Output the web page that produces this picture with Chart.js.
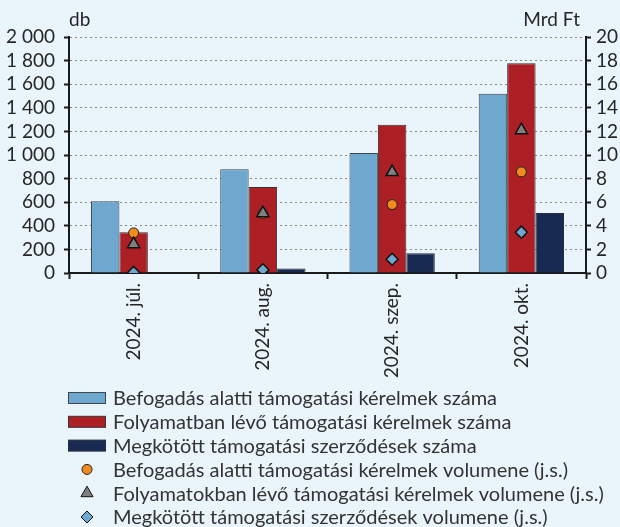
<!DOCTYPE html>
<html>
<head>
<meta charset="utf-8">
<script src="https://cdn.jsdelivr.net/npm/chart.js"></script>
<style>
  body { margin: 0; background: #e9f4fb; }
  canvas { display: block; }
</style>
</head>
<body>
<canvas id="chart" width="620" height="527"></canvas>
<script>
var categories = ['2024. júl.', '2024. aug.', '2024. szep.', '2024. okt.'];

// bars, left axis (db)
var befogadasDb = [607, 880, 1018, 1520];
var folyamatbanDb = [346, 728, 1257, 1777];
var megkototDb = [0, 38, 168, 508];

// markers, right axis (Mrd Ft)
var befogadasMrd = [3.4, 5.05, 5.8, 8.57];
var folyamatbanMrd = [2.44, 5.07, 8.55, 12.1];
var megkototMrd = [0.05, 0.27, 1.16, 3.46];

var leftTicks = [0, 200, 400, 600, 800, 1000, 1200, 1400, 1600, 1800, 2000];
var rightTicks = [0, 2, 4, 6, 8, 10, 12, 14, 16, 18, 20];

Chart.defaults.font.family = 'Lato';
Chart.defaults.color = '#262626';

function fmt(v) {
    return String(v).replace(/\B(?=(\d{3})+(?!\d))/g, ' ');
}

function marker(ctx, style, x, y, r) {
    ctx.beginPath();
    if (style === 'circle') {
        ctx.arc(x, y, r, 0, Math.PI * 2);
    } else if (style === 'triangle') {
        ctx.moveTo(x, y - r);
        ctx.lineTo(x + r * 0.866, y + r * 0.5);
        ctx.lineTo(x - r * 0.866, y + r * 0.5);
        ctx.closePath();
    } else {
        ctx.moveTo(x, y - r);
        ctx.lineTo(x + r, y);
        ctx.lineTo(x, y + r);
        ctx.lineTo(x - r, y);
        ctx.closePath();
    }
    ctx.fill();
    ctx.stroke();
}

// axis unit labels + one-per-row legend
var extras = {
    id: 'extras',
    afterDraw: function (chart) {
        var ctx = chart.ctx;
        var area = chart.chartArea;
        ctx.save();
        ctx.fillStyle = '#262626';
        ctx.font = '19px Lato';
        ctx.textBaseline = 'middle';
        ctx.textAlign = 'left';
        ctx.fillText('db', area.left, 20);
        ctx.textAlign = 'right';
        ctx.fillText('Mrd Ft', area.right - 6, 20);

        ctx.font = '20px Lato';
        ctx.textAlign = 'left';
        chart.data.datasets.forEach(function (ds, i) {
            var y = 398 + i * 23.8;
            ctx.lineWidth = 1;
            ctx.strokeStyle = ds.borderColor;
            ctx.fillStyle = ds.backgroundColor;
            if (ds.type === 'bar') {
                ctx.fillRect(68.5, y - 5.5, 37, 11);
                ctx.strokeRect(68.5, y - 5.5, 37, 11);
            } else {
                marker(ctx, ds.pointStyle, 87, y, ds.pointRadius);
            }
            ctx.fillStyle = '#333333';
            ctx.fillText(ds.label, 113, y + 1);
        });
        ctx.restore();
    }
};

new Chart(document.getElementById('chart'), {
    data: {
        labels: categories,
        datasets: [{
            type: 'bar',
            label: 'Befogadás alatti támogatási kérelmek száma',
            data: befogadasDb,
            backgroundColor: '#6fa8cf',
            borderColor: '#3c4650',
            borderWidth: 1,
            order: 10
        }, {
            type: 'bar',
            label: 'Folyamatban lévő támogatási kérelmek száma',
            data: folyamatbanDb,
            backgroundColor: '#ac2025',
            borderColor: '#3c3030',
            borderWidth: 1,
            order: 10
        }, {
            type: 'bar',
            label: 'Megkötött támogatási szerződések száma',
            data: megkototDb,
            backgroundColor: '#182a52',
            borderColor: '#2a2f3c',
            borderWidth: 1,
            order: 10
        }, {
            type: 'line',
            label: 'Befogadás alatti támogatási kérelmek volumene (j.s.)',
            data: befogadasMrd,
            yAxisID: 'y2',
            showLine: false,
            pointStyle: 'circle',
            pointRadius: 5,
            backgroundColor: '#f28b1e',
            borderColor: '#202020',
            borderWidth: 1,
            order: 3
        }, {
            type: 'line',
            label: 'Folyamatokban lévő támogatási kérelmek volumene (j.s.)',
            data: folyamatbanMrd,
            yAxisID: 'y2',
            showLine: false,
            pointStyle: 'triangle',
            pointRadius: 7,
            backgroundColor: '#808080',
            borderColor: '#101010',
            borderWidth: 1.5,
            order: 2
        }, {
            type: 'line',
            label: 'Megkötött támogatási szerződések volumene (j.s.)',
            data: megkototMrd,
            yAxisID: 'y2',
            showLine: false,
            pointStyle: 'rectRot',
            pointRadius: 6,
            backgroundColor: '#6fa8cf',
            borderColor: '#101010',
            borderWidth: 1.5,
            order: 1
        }]
    },
    options: {
        responsive: false,
        animation: false,
        layout: { padding: { top: 37, left: 0, right: 0, bottom: 0 } },
        datasets: {
            bar: { barPercentage: 1, categoryPercentage: 0.66 }
        },
        plugins: {
            legend: { display: false },
            tooltip: { enabled: false }
        },
        scales: {
            x: {
                offset: true,
                grid: {
                    offset: true,
                    drawOnChartArea: false,
                    tickLength: 6,
                    tickColor: '#1a1a1a',
                    tickWidth: 2
                },
                border: { color: '#1a1a1a', width: 2 },
                ticks: {
                    minRotation: 90,
                    maxRotation: 90,
                    padding: 4,
                    font: { size: 19 }
                },
                afterFit: function (s) { s.height = 254; }
            },
            y: {
                position: 'left',
                min: 0,
                max: 2000,
                afterBuildTicks: function (s) {
                    s.ticks = leftTicks.map(function (v) { return { value: v }; });
                },
                grid: {
                    color: '#8a8a8a',
                    lineWidth: 1,
                    tickLength: 5,
                    tickColor: '#1a1a1a',
                    tickWidth: 2,
                    tickBorderDash: []
                },
                border: { color: '#1a1a1a', width: 2, dash: [2, 3] },
                ticks: {
                    autoSkip: false,
                    padding: 9,
                    font: { size: 19 },
                    callback: function (v) { return fmt(v); }
                },
                afterFit: function (s) { s.width = 69; }
            },
            y2: {
                position: 'right',
                min: 0,
                max: 20,
                afterBuildTicks: function (s) {
                    s.ticks = rightTicks.map(function (v) { return { value: v }; });
                },
                grid: {
                    drawOnChartArea: false,
                    tickLength: 5,
                    tickColor: '#1a1a1a',
                    tickWidth: 2
                },
                border: { color: '#1a1a1a', width: 2 },
                ticks: {
                    autoSkip: false,
                    padding: 5,
                    font: { size: 19 }
                },
                afterFit: function (s) { s.width = 34; }
            }
        }
    },
    plugins: [extras]
});
</script>
</body>
</html>
